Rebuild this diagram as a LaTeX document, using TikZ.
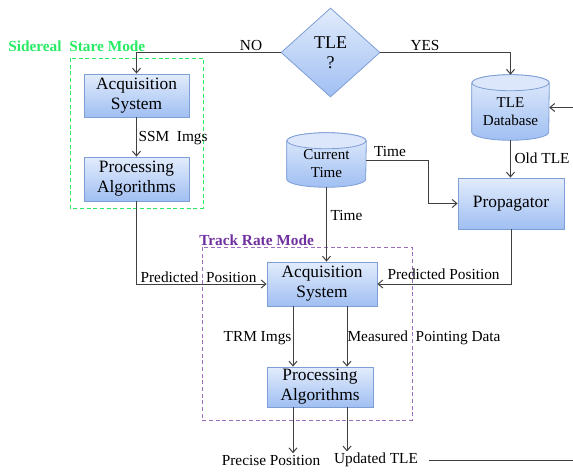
\documentclass[tikz,border=0pt]{standalone}
\usepackage{fontspec}
\setmainfont{Liberation Serif}
\usetikzlibrary{shapes.geometric,arrows.meta,shadows,calc}
\pgfdeclarelayer{background}
\pgfsetlayers{background,main}
\definecolor{boxtop}{HTML}{E2ECFC}
\definecolor{boxbot}{HTML}{A0BFF2}
\definecolor{boxline}{HTML}{7E9ED6}
\definecolor{cyltopend}{HTML}{DCE7FB}
\definecolor{linec}{HTML}{404040}
\definecolor{ssmgreen}{RGB}{40,235,100}
\definecolor{trmpurple}{HTML}{7030A0}
\newcommand{\mycyl}[3]{%
  \begin{pgfonlayer}{background}
  \path[draw=boxline, line width=0.6pt, top color=boxtop, bottom color=boxbot]
    ([yshift=-#3]#1.north west) -- ([yshift=#3]#1.south west)
    arc[start angle=180, end angle=360, x radius=#2, y radius=#3]
    -- ([yshift=-#3]#1.north east)
    arc[start angle=0, end angle=180, x radius=#2, y radius=#3] -- cycle;
  \path[draw=boxline, line width=0.6pt, fill=cyltopend]
    ([yshift=-#3]#1.north) ellipse[x radius=#2, y radius=#3];
  \end{pgfonlayer}}
\begin{document}
\begin{tikzpicture}[x=0.75pt,y=-0.75pt,
  box/.style={draw=boxline, line width=0.6pt, top color=boxtop, bottom color=boxbot,
    align=center, inner sep=0pt, font=\fontsize{13}{15}\selectfont,
    drop shadow={shadow xshift=1pt, shadow yshift=-1pt, opacity=0.25, fill=gray}},
  cylnode/.style={inner sep=0pt},
  cyltxt/.style={align=center, font=\fontsize{11.3}{13.5}\selectfont},
  lbl/.style={inner sep=1pt, font=\fontsize{11.5}{13}\selectfont, text=black},
  modelbl/.style={inner sep=0pt, font=\bfseries\fontsize{11.5}{13}\selectfont},
  arr/.style={draw=linec, line width=0.75pt, -{Straight Barb[length=3.5pt,width=6pt]}},
  ln/.style={draw=linec, line width=0.75pt}]
\useasboundingbox (0,0) rectangle (573,472);

% mode frames
\draw[ssmgreen, line width=0.75pt, dash pattern=on 3pt off 2pt] (70,58) rectangle (203,208);
\draw[trmpurple!70, line width=0.75pt, dash pattern=on 3pt off 2pt] (202,247) rectangle (412,420);
\node[modelbl, text=ssmgreen, anchor=west] (ssmlbl) at (8,46) {Sidereal\ \ Stare Mode};
\node[modelbl, text=trmpurple, anchor=west] (trmlbl) at (199,240) {Track Rate Mode};

% decision
\node[diamond, draw=boxline, line width=0.6pt, top color=boxtop, bottom color=boxbot,
  inner sep=0pt, aspect=1.11, minimum width={99*0.75pt}, minimum height={89*0.75pt},
  align=center, font=\fontsize{13.5}{15}\selectfont] (tle) at (330.5,52.5) {TLE\\?};

% boxes
\node[box, minimum width={105*0.75pt}, minimum height={43*0.75pt}] (ssmacq) at (136.5,95.5) {Acquisition\\System};
\node[box, minimum width={105*0.75pt}, minimum height={44*0.75pt}] (ssmproc) at (136.5,179) {Processing\\Algorithms};
\node[box, minimum width={106*0.75pt}, minimum height={51*0.75pt}] (prop) at (511,203.5) {Propagator};
\node[box, minimum width={110*0.75pt}, minimum height={44*0.75pt}] (trmacq) at (322,284) {Acquisition\\System};
\node[box, minimum width={106*0.75pt}, minimum height={40*0.75pt}] (trmproc) at (320,387) {Processing\\Algorithms};

% cylinders
\node[cylnode, minimum width={77*0.75pt}, minimum height={65*0.75pt},
  label={[cyltxt, yshift=-3.4pt]center:TLE\\Database}] (db) at (510.5,107.5) {};
\mycyl{db}{28.875pt}{6pt}
\node[cylnode, minimum width={79*0.75pt}, minimum height={54*0.75pt},
  label={[cyltxt, yshift=-3pt]center:Current\\Time}] (curtime) at (326.5,160) {};
\mycyl{curtime}{29.625pt}{6pt}

% helper coordinates
\coordinate (tbend) at (428,160);
\coordinate (xImg) at (293,300);
\coordinate (xMeas) at (347,300);
\coordinate (edgeDb) at (573,107.5);
\coordinate (edgeR) at (573,460);

% output labels
\node[lbl] (pp) at (271,460) {Precise Position};
\node[lbl] (ut) at (376,460) {Updated TLE};

% connectors
\draw[arr] (tle.west) -| (ssmacq.north);
\draw[arr] (tle.east) -| (db.north);
\draw[arr] (ssmacq.south) -- (ssmproc.north);
\draw[arr] (ssmproc.south) |- (trmacq.west);
\draw[arr] (db.south) -- (db.south |- prop.north);
\draw[arr] (curtime.east) -- (tbend) |- (prop.west);
\draw[arr] (curtime.south) -- (curtime.south |- trmacq.north);
\draw[arr] (prop.south) |- (trmacq.east);
\draw[arr] (edgeDb) -- (db.east);
\draw[arr] (trmacq.south -| xImg) -- (trmproc.north -| xImg);
\draw[arr] (trmacq.south -| xMeas) -- (trmproc.north -| xMeas);
\draw[arr] (trmproc.south -| xImg) -- (pp.north -| xImg);
\draw[arr] (trmproc.south -| xMeas) -- (ut.north -| xMeas);
\draw[ln] ([xshift=7pt]ut.east) -- (edgeR);

% connector labels
\node[lbl] (lno) at (251,45) {NO};
\node[lbl] (lyes) at (425,45) {YES};
\node[lbl, anchor=west] (lssm) at (137,138) {SSM\ \ Imgs};
\node[lbl, anchor=west] (lpp1) at (139,277) {Predicted\ \ Position};
\node[lbl] (ltime1) at (390,151) {Time};
\node[lbl, anchor=west] (loldtle) at (513,158) {Old TLE};
\node[lbl, anchor=west] (ltime2) at (329,215) {Time};
\node[lbl, anchor=west] (lpp2) at (386,274) {Predicted Position};
\node[lbl, anchor=east] (ltrm) at (293,338) {TRM Imgs};
\node[lbl, anchor=west] (lmeas) at (346,338) {Measured\ \ Pointing Data};
\end{tikzpicture}
\end{document}
